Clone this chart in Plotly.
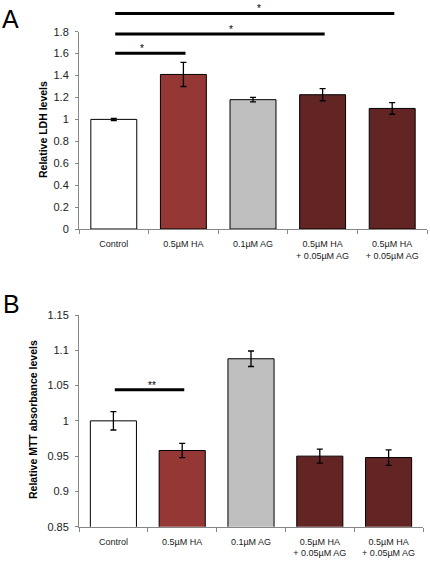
import plotly.graph_objects as go

# ---------------- data ----------------
categories = ["Control", "0.5µM HA", "0.1µM AG", "0.5µM HA<br>+ 0.05µM AG", "0.5µM HA<br>+ 0.05µM AG"]
bar_colors = ["#FFFFFF", "#953735", "#BFBFBF", "#632523", "#632523"]

ldh_values = [1.00, 1.41, 1.18, 1.225, 1.10]
ldh_errors = [0.01, 0.11, 0.02, 0.055, 0.053]

mtt_values = [1.000, 0.958, 1.088, 0.950, 0.948]
mtt_errors = [0.013, 0.010, 0.011, 0.010, 0.011]

# significance brackets: (from category, to category), height, label
ldh_sig_pairs = [(0, 4), (0, 3), (0, 1)]
ldh_sig_y = [1.967, 1.779, 1.603]
ldh_sig_labels = ["*", "*", "*"]

mtt_sig_pairs = [(0, 1)]
mtt_sig_y = [1.044]
mtt_sig_labels = ["**"]

A_RANGE = [0, 1.8]
B_RANGE = [0.85, 1.15]

W, H = 430, 563
FONT = "Liberation Sans, Arial, sans-serif"

fig = go.Figure()
fig.update_layout(template="none")
xs = list(range(len(categories)))

fig.add_trace(go.Bar(
    x=xs, y=ldh_values, width=0.66,
    marker=dict(color=bar_colors, line=dict(color="#000000", width=1)),
    error_y=dict(type="data", array=ldh_errors, color="#000000", thickness=1.3, width=3),
    xaxis="x", yaxis="y", showlegend=False, hoverinfo="skip",
))
fig.add_trace(go.Bar(
    x=xs, y=mtt_values, width=0.67,
    marker=dict(color=bar_colors, line=dict(color="#000000", width=1)),
    error_y=dict(type="data", array=mtt_errors, color="#000000", thickness=1.3, width=3),
    xaxis="x2", yaxis="y2", showlegend=False, hoverinfo="skip",
))

axis_gray = "#868686"
boundaries = [i - 0.5 for i in range(len(categories) + 1)]

def xaxis_cfg(domain, anchor):
    return dict(
        domain=domain, anchor=anchor, range=[-0.5, len(categories) - 0.5],
        tickvals=xs, ticktext=categories, ticks="", showgrid=False, zeroline=False,
        showline=True, linecolor=axis_gray, linewidth=1, automargin=False,
        ticklabelstandoff=6,
        tickfont=dict(family=FONT, size=9, color="#222222"),
        minor=dict(tickvals=boundaries, ticks="outside", ticklen=4, tickcolor=axis_gray, showgrid=False),
        fixedrange=True,
    )

def yaxis_cfg(domain, anchor, rng, dtick):
    return dict(
        domain=domain, anchor=anchor, range=rng, dtick=dtick, tick0=rng[0],
        ticks="outside", ticklen=3, tickcolor=axis_gray, showgrid=False, zeroline=False,
        showline=True, linecolor=axis_gray, linewidth=1, automargin=False,
        ticklabelstandoff=4,
        tickfont=dict(family=FONT, size=11, color="#222222"),
        fixedrange=True,
    )

fig.update_layout(
    width=W, height=H,
    margin=dict(l=0, r=0, t=0, b=0, pad=0, autoexpand=False),
    paper_bgcolor="white", plot_bgcolor="white",
    bargap=0.34,
    xaxis=xaxis_cfg([79 / W, 427 / W], "y"),
    yaxis=yaxis_cfg([1 - 229 / H, 1 - 31.7 / H], "x", A_RANGE, 0.2),
    xaxis2=xaxis_cfg([79 / W, 423 / W], "y2"),
    yaxis2=yaxis_cfg([1 - 526.7 / H, 1 - 315 / H], "x2", B_RANGE, 0.05),
)

shapes = []
annotations = []

def add_sig(pairs, ys, labels, xref, yref, rng, star_dx):
    span = rng[1] - rng[0]
    for (a, b), yv, lab, dx in zip(pairs, ys, labels, star_dx):
        frac = (yv - rng[0]) / span
        shapes.append(dict(type="line", xref=xref, yref=yref + " domain",
                           x0=a + 0.02, x1=b + 0.03, y0=frac, y1=frac,
                           line=dict(color="#000000", width=3)))
        annotations.append(dict(text=lab, xref=xref, yref=yref + " domain",
                                x=dx, y=frac, xanchor="center", yanchor="bottom",
                                yshift=-3, showarrow=False,
                                font=dict(family=FONT, size=10, color="#000000")))

add_sig(ldh_sig_pairs, ldh_sig_y, ldh_sig_labels, "x", "y", A_RANGE, [2.08, 1.69, 0.40])
add_sig(mtt_sig_pairs, mtt_sig_y, mtt_sig_labels, "x2", "y2", B_RANGE, [0.56])

# axis titles
annotations.append(dict(text="<b>Relative LDH levels</b>", xref="paper", yref="paper",
                        x=43 / W, y=1 - 130 / H, textangle=-90, showarrow=False,
                        xanchor="center", yanchor="middle",
                        font=dict(family=FONT, size=10.5, color="#000000")))
annotations.append(dict(text="<b>Relative MTT absorbance levels</b>", xref="paper", yref="paper",
                        x=33 / W, y=1 - 420 / H, textangle=-90, showarrow=False,
                        xanchor="center", yanchor="middle",
                        font=dict(family=FONT, size=10.5, color="#000000")))
# panel letters
annotations.append(dict(text="A", xref="paper", yref="paper", x=0 / W, y=1 - 19 / H,
                        xanchor="left", yanchor="middle", showarrow=False,
                        font=dict(family=FONT, size=25, color="#000000")))
annotations.append(dict(text="B", xref="paper", yref="paper", x=1 / W, y=1 - 304 / H,
                        xanchor="left", yanchor="middle", showarrow=False,
                        font=dict(family=FONT, size=25, color="#000000")))

fig.update_layout(shapes=shapes, annotations=annotations)

fig.write_html("out.html", config={"displayModeBar": False},
               post_script="document.body.style.margin='0';")
